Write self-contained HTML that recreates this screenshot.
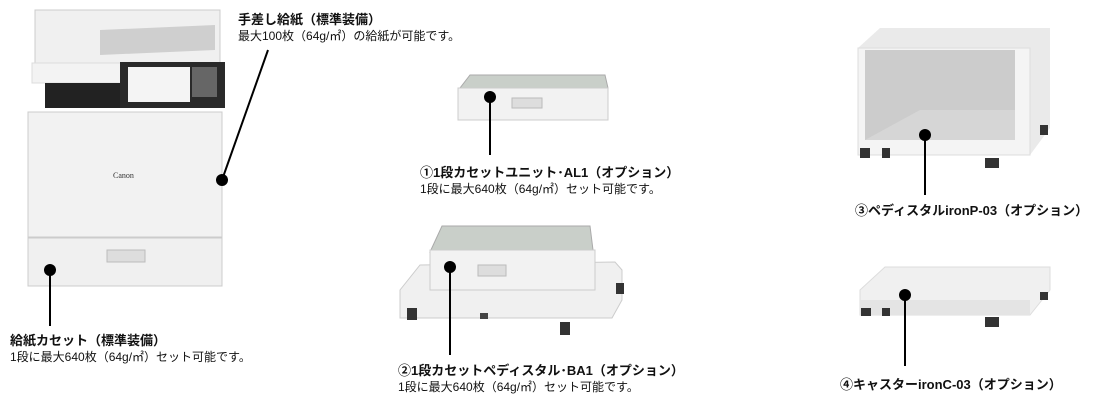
<!DOCTYPE html>
<html><head><meta charset="utf-8"><style>
body{margin:0;width:1120px;height:413px;background:#fff;overflow:hidden;position:relative;font-family:"Liberation Sans","Noto Sans CJK JP",sans-serif;color:#111}
.t{position:absolute;white-space:nowrap;font-size:13px;font-weight:bold}
.s{position:absolute;white-space:nowrap;font-size:12px}
svg{position:absolute;left:0;top:0}
</style></head><body>
<svg width="1120" height="413">
<!-- printer -->
<rect x="35" y="10" width="185" height="55" fill="#f0f0f0" stroke="#ccc"/>
<polygon points="100,30 215,25 215,50 100,55" fill="#cfcfcf"/>
<rect x="32" y="63" width="190" height="20" fill="#f3f3f3" stroke="#ddd"/>
<rect x="45" y="83" width="75" height="25" fill="#222"/>
<polygon points="120,62 225,62 225,108 120,108" fill="#2a2a2a"/>
<rect x="128" y="67" width="62" height="35" fill="#f4f4f4"/>
<rect x="192" y="67" width="25" height="30" fill="#666"/>
<rect x="28" y="112" width="194" height="125" fill="#f2f2f2" stroke="#ccc"/>
<text x="113" y="178" font-size="8" font-family="Liberation Serif" fill="#333">Canon</text>
<rect x="28" y="238" width="194" height="48" fill="#f0f0f0" stroke="#ccc"/>
<rect x="107" y="250" width="38" height="12" fill="#ddd" stroke="#bbb"/>
<line x1="222" y1="180" x2="268" y2="50" stroke="#000" stroke-width="2"/>
<circle cx="222" cy="180" r="6"/>
<line x1="50" y1="270" x2="50" y2="326" stroke="#000" stroke-width="2"/>
<circle cx="50" cy="270" r="6"/>
<!-- tray1 -->
<polygon points="470,75 605,75 608,88 460,88" fill="#c9cfc9" stroke="#aaa"/>
<rect x="458" y="88" width="150" height="32" fill="#f2f2f2" stroke="#ccc"/>
<rect x="512" y="98" width="30" height="10" fill="#ddd" stroke="#bbb"/>
<line x1="490" y1="97" x2="490" y2="155" stroke="#000" stroke-width="2"/>
<circle cx="490" cy="97" r="6"/>
<!-- tray2 pedestal -->
<polygon points="420,265 615,262 622,270 622,300 612,318 400,318 400,290" fill="#f0f0f0" stroke="#ccc"/>
<polygon points="442,226 590,226 593,250 430,252" fill="#c9cfc9" stroke="#aaa"/>
<rect x="430" y="250" width="165" height="40" fill="#f2f2f2" stroke="#ccc"/>
<rect x="478" y="265" width="28" height="11" fill="#ddd" stroke="#bbb"/>
<rect x="407" y="308" width="10" height="12" fill="#333"/><rect x="560" y="322" width="10" height="13" fill="#333"/>
<rect x="480" y="313" width="8" height="6" fill="#444"/><rect x="616" y="283" width="8" height="11" fill="#333"/>
<line x1="450" y1="267" x2="450" y2="355" stroke="#000" stroke-width="2"/>
<circle cx="450" cy="267" r="6"/>
<!-- pedestal P-03 -->
<polygon points="880,28 1050,28 1050,128 1030,155 858,155 858,48" fill="#eaeaea"/>
<rect x="858" y="48" width="172" height="107" fill="#f4f4f4" stroke="#ddd"/>
<rect x="865" y="50" width="150" height="90" fill="#ccc"/>
<polygon points="865,140 920,110 1015,110 1015,140" fill="#d6d6d6"/>
<rect x="860" y="148" width="10" height="10" fill="#333"/><rect x="882" y="148" width="8" height="10" fill="#333"/>
<rect x="985" y="158" width="14" height="10" fill="#333"/><rect x="1040" y="125" width="8" height="10" fill="#333"/>
<line x1="925" y1="135" x2="925" y2="195" stroke="#000" stroke-width="2"/>
<circle cx="925" cy="135" r="6"/>
<!-- caster C-03 -->
<polygon points="885,267 1050,267 1050,290 1030,315 860,315 860,290" fill="#f0f0f0" stroke="#ddd"/>
<rect x="860" y="300" width="170" height="15" fill="#e4e4e4"/>
<rect x="861" y="308" width="10" height="8" fill="#333"/><rect x="882" y="308" width="8" height="8" fill="#333"/>
<rect x="985" y="317" width="14" height="10" fill="#333"/><rect x="1040" y="292" width="8" height="8" fill="#333"/>
<line x1="905" y1="295" x2="905" y2="366" stroke="#000" stroke-width="2"/>
<circle cx="905" cy="295" r="6"/>
</svg>
<div class="t" style="left:238px;top:9px">手差し給紙（標準装備）</div>
<div class="s" style="left:238px;top:27px">最大100枚（64g/㎡）の給紙が可能です。</div>
<div class="t" style="left:10px;top:330px">給紙カセット（標準装備）</div>
<div class="s" style="left:10px;top:348px">1段に最大640枚（64g/㎡）セット可能です。</div>
<div class="t" style="left:420px;top:162px">①1段カセットユニット･AL1（オプション）</div>
<div class="s" style="left:420px;top:180px">1段に最大640枚（64g/㎡）セット可能です。</div>
<div class="t" style="left:398px;top:360px">②1段カセットペディスタル･BA1（オプション）</div>
<div class="s" style="left:398px;top:378px">1段に最大640枚（64g/㎡）セット可能です。</div>
<div class="t" style="left:855px;top:200px">③ペディスタルironP-03（オプション）</div>
<div class="t" style="left:840px;top:374px">④キャスターironC-03（オプション）</div>
</body></html>
